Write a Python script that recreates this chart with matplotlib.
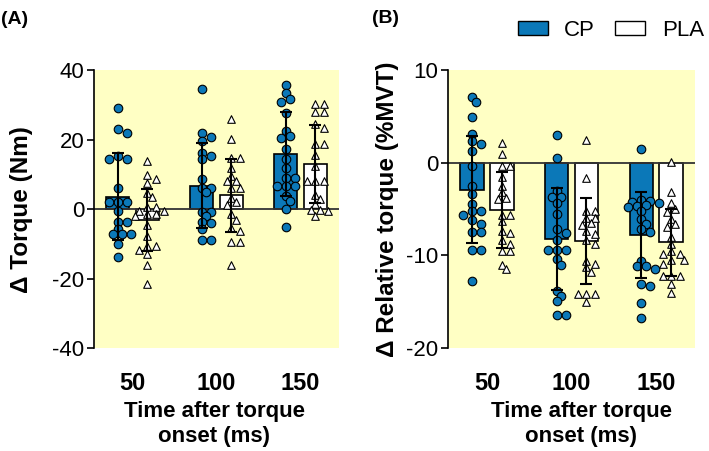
import numpy as np
import matplotlib
matplotlib.use('Agg')
import matplotlib.pyplot as plt
from matplotlib.patches import Patch

plt.rcParams['font.family'] = ['Liberation Sans', 'DejaVu Sans']
plt.rcParams['axes.unicode_minus'] = False

times = ['50', '100', '150']

# panel A: delta torque (Nm)
torque_cp = [
    [29.0, 23.1, 22.0, 15.3, 14.3, 14.3, 6.0, 2.1, 2.1, 2.1, -0.6, -3.7, -3.7, -5.6, -7.0, -7.0, -7.0, -9.9, -13.7],
    [34.6, 21.8, 20.8, 19.6, 16.2, 15.3, 14.3, 8.7, 6.2, 6.2, 4.9, -0.7, -0.7, -2.0, -3.6, -3.9, -5.6, -8.7, -8.7],
    [35.6, 33.3, 31.6, 30.8, 27.7, 22.6, 21.0, 20.5, 17.2, 14.5, 11.9, 9.0, 9.0, 6.8, 6.8, 6.8, 3.9, 2.3, 0.1, -5.1],
]
torque_pla = [
    [13.8, 9.8, 8.8, 7.6, 4.7, 3.5, 0.6, 0.6, -0.4, -0.4, -1.5, -1.5, -2.0, -4.4, -7.8, -10.6, -10.6, -11.6, -13.0, -15.9, -21.4],
    [25.8, 20.3, 14.8, 14.8, 11.9, 9.5, 8.1, 8.1, 6.2, 6.2, 3.3, 2.0, 1.1, -1.5, -3.0, -5.4, -6.3, -9.4, -9.4, -15.9],
    [30.1, 30.1, 27.9, 27.9, 24.4, 23.4, 18.6, 18.6, 15.7, 12.4, 8.1, 8.1, 8.1, 4.2, 2.8, 1.4, -0.1, -0.1, -0.6, -1.8],
]
torque_cp_mean = [3.6, 6.8, 15.8]
torque_cp_sd = [12.5, 12.2, 12.1]
torque_pla_mean = [-3.1, 4.0, 13.0]
torque_pla_sd = [9.0, 10.5, 11.1]

# panel B: delta relative torque (%MVT)
rel_cp = [
    [7.1, 6.5, 4.9, 3.1, 2.3, 2.0, 1.3, -0.4, -2.5, -3.4, -4.5, -5.2, -5.2, -5.6, -6.2, -6.6, -7.5, -7.5, -9.4, -9.4, -12.8],
    [3.0, 0.5, -3.1, -3.7, -3.7, -4.4, -5.5, -7.2, -7.6, -8.3, -9.4, -9.4, -9.4, -10.4, -11.0, -13.8, -14.4, -14.9, -16.4, -16.4],
    [1.5, -4.0, -4.1, -4.2, -4.4, -4.6, -4.7, -4.8, -5.2, -6.1, -6.6, -7.2, -7.5, -10.6, -11.1, -11.1, -11.5, -13.1, -13.3, -15.1, -16.8],
]
rel_pla = [
    [2.1, 0.9, -0.4, -0.4, -1.5, -2.5, -3.2, -3.8, -3.9, -5.6, -5.7, -6.3, -7.4, -7.6, -8.4, -8.8, -9.5, -9.5, -11.0, -11.5],
    [2.4, -1.7, -5.2, -5.2, -6.0, -6.0, -6.5, -6.7, -7.4, -7.7, -8.4, -8.8, -10.6, -10.9, -11.3, -11.8, -14.2, -14.2, -14.2, -15.0],
    [0.1, -3.2, -4.4, -5.0, -5.3, -6.1, -6.6, -6.9, -8.0, -8.8, -9.5, -9.9, -9.9, -10.5, -10.5, -10.9, -12.2, -12.2, -12.2, -13.1, -14.1],
]
rel_cp_mean = [-2.9, -8.2, -7.8]
rel_cp_sd = [5.75, 5.5, 4.65]
rel_pla_mean = [-5.1, -8.45, -8.6]
rel_pla_sd = [4.1, 4.6, 3.6]

blue = '#0b78b8'
yellow = '#ffffc4'


def swarm(ax, xc, vals, diam):
    # spread points sideways (in pixels), GraphPad-like columns
    tr = ax.transData
    x0 = tr.transform((xc, 0))[0]
    step = 0.5 * diam
    placed = []
    xs = []
    for v in vals:
        py = tr.transform((xc, v))[1]
        k = 0
        while True:
            for off in ([0] if k == 0 else [k * step, -k * step]):
                ok = all((off - a) ** 2 + (py - b) ** 2 >= (0.68 * diam) ** 2 for a, b in placed)
                if ok:
                    break
            else:
                k += 1
                continue
            break
        placed.append((off, py))
        xs.append(tr.inverted().transform((x0 + off, py))[0])
    return xs


def panel(ax, cp, pla, cp_m, cp_s, pla_m, pla_s, ylim, yticks, ylabel, ylab_x, xlab_x):
    ax.set_facecolor(yellow)
    ax.set_xlim(-0.46, 2.46)
    ax.set_ylim(*ylim)
    x = np.arange(len(times))
    d = 0.177
    w = 0.275
    ax.bar(x - d, cp_m, w, color=blue, edgecolor='black', linewidth=1.2, zorder=2)
    ax.bar(x + d, pla_m, w, color='white', edgecolor='black', linewidth=1.2, zorder=2)
    ax.axhline(0, color='#333333', lw=1.3, zorder=2.5)
    for i in range(len(times)):
        xs = swarm(ax, x[i] - d, cp[i], 9.0)
        ax.scatter(xs, cp[i], s=38, marker='o', facecolor=blue, edgecolor='black', linewidth=0.8, zorder=3)
        xs = swarm(ax, x[i] + d, pla[i], 8.5)
        ax.scatter(xs, pla[i], s=30, marker='^', facecolor='white', edgecolor='black', linewidth=0.8, zorder=3)
    ax.errorbar(x - d, cp_m, yerr=cp_s, fmt='none', ecolor='black', elinewidth=1.5, capsize=4, capthick=1.5, zorder=4)
    ax.errorbar(x + d, pla_m, yerr=pla_s, fmt='none', ecolor='black', elinewidth=1.5, capsize=4, capthick=1.5, zorder=4)
    ax.set_xticks(x)
    ax.set_xticklabels(times, fontsize=17, fontweight='bold')
    ax.tick_params(axis='x', length=0, pad=17)
    ax.set_yticks(yticks)
    ax.tick_params(axis='y', labelsize=16, length=5, width=1.2, pad=2)
    for s in ['top', 'right', 'bottom']:
        ax.spines[s].set_visible(False)
    ax.spines['left'].set_linewidth(1.2)
    ax.set_ylabel(ylabel, fontsize=17.5, fontweight='bold')
    ax.yaxis.set_label_coords(ylab_x, 0.5)
    ax.set_xlabel('Time after torque\nonset (ms)', fontsize=16, fontweight='bold', linespacing=1.25)
    ax.xaxis.set_label_coords(xlab_x, -0.19)


fig = plt.figure(figsize=(7.09, 4.51), dpi=100)
axA = fig.add_axes([0.1326, 0.2273, 0.3456, 0.6175])
axB = fig.add_axes([0.6319, 0.2284, 0.3484, 0.6164])

panel(axA, torque_cp, torque_pla, torque_cp_mean, torque_cp_sd, torque_pla_mean, torque_pla_sd,
      (-40, 40), [-40, -20, 0, 20, 40], 'Δ Torque (Nm)', -0.25, 0.49)
panel(axB, rel_cp, rel_pla, rel_cp_mean, rel_cp_sd, rel_pla_mean, rel_pla_sd,
      (-20, 10), [-20, -10, 0, 10], 'Δ Relative torque (%MVT)', -0.2, 0.54)

fig.text(0.002, 0.975, '(A)', fontsize=14, fontweight='bold', va='top')
fig.text(0.524, 0.978, '(B)', fontsize=14, fontweight='bold', va='top')

handles = [Patch(facecolor=blue, edgecolor='black', label='CP'),
           Patch(facecolor='white', edgecolor='black', label='PLA')]
fig.legend(handles=handles, loc='upper right', bbox_to_anchor=(1.021, 1.0), ncol=2, frameon=False,
           fontsize=16, handlelength=1.35, handleheight=0.55, columnspacing=0.9, handletextpad=0.75)

fig.savefig('out.png', dpi=100)
